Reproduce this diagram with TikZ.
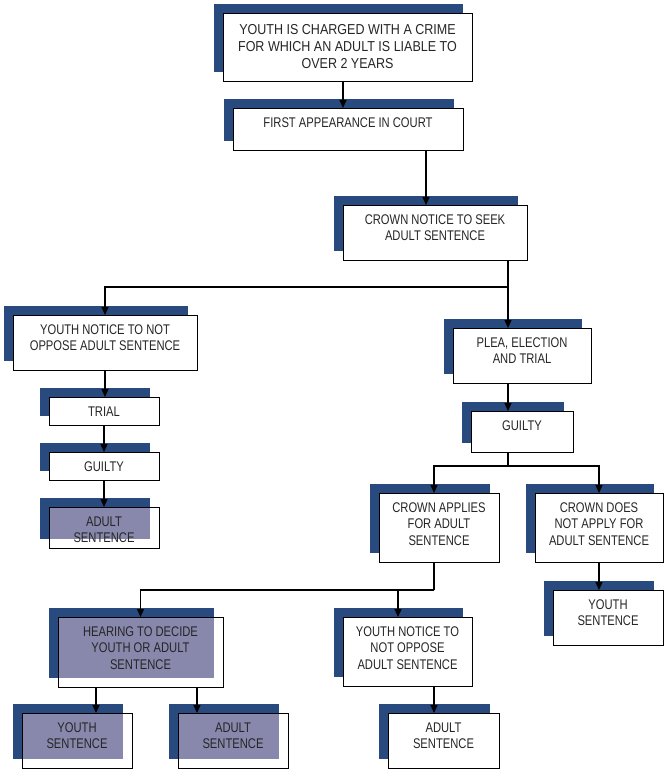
\documentclass[tikz,border=0pt]{standalone}
\usepackage{fontspec}
\setmainfont{Liberation Sans}[FakeStretch=0.8]
\newfontfamily\topfont{Liberation Sans}[FakeStretch=0.87]
\usetikzlibrary{arrows.meta,calc}
\definecolor{navy}{RGB}{40,74,126}
\definecolor{lavbox}{RGB}{135,136,172}
\definecolor{txtgray}{RGB}{38,38,38}
\tikzset{
  box/.style={draw=black, line width=0.9pt, fill=white, anchor=north west, inner sep=0pt, outer sep=0pt},
  lav/.style={path picture={\fill[lavbox] (path picture bounding box.north west) rectangle ([xshift=-9pt,yshift=9pt]path picture bounding box.south east);}},
  plain/.style={},
  txt/.style={anchor=north, align=center, inner sep=0pt, text=txtgray, font={\fontsize{14}{16.5}\selectfont}},
  toptxt/.style={anchor=north, align=center, inner sep=0pt, yshift=-1.5pt, text=txtgray, font={\topfont\fontsize{14.4}{17}\selectfont}},
  conn/.style={line width=1.2pt, draw=black},
  arr/.style={line width=1.2pt, draw=black, -{Triangle[length=8pt,width=7pt]}},
}
% name, x, y, w, h, box style, text style, text
\newcommand\FlowBox[8]{%
  \fill[navy] (#2pt-9pt,-#3pt+9pt) rectangle ++(#4pt,-#5pt);
  \node[box,#6,minimum width=#4pt,minimum height=#5pt] (#1) at (#2pt,-#3pt) {};
  \node[#7] (#1t) at ([yshift=-9.5pt]#1.north) {#8};
}
\begin{document}
\begin{tikzpicture}
\useasboundingbox (0,0) rectangle (670pt,-773pt);
\FlowBox{top}{223}{13}{249}{68}{plain}{toptxt}{YOUTH IS CHARGED WITH A CRIME\\FOR WHICH AN ADULT IS LIABLE TO\\OVER 2 YEARS}
\FlowBox{first}{233}{108}{230}{42}{plain}{txt}{FIRST APPEARANCE IN COURT}
\FlowBox{crown}{343}{205}{184}{55}{plain}{txt}{CROWN NOTICE TO SEEK\\ADULT SENTENCE}
\FlowBox{ynot}{13}{315}{184}{55}{plain}{txt}{YOUTH NOTICE TO NOT\\OPPOSE ADULT SENTENCE}
\FlowBox{trial}{49}{397}{110}{28}{plain}{txt}{TRIAL}
\FlowBox{guiltyL}{49}{452}{110}{28}{plain}{txt}{GUILTY}
\FlowBox{adultL}{49}{507}{110}{41}{lav}{txt}{ADULT\\SENTENCE}
\FlowBox{plea}{453}{328}{138}{55}{plain}{txt}{PLEA, ELECTION\\AND TRIAL}
\FlowBox{guiltyR}{471}{411}{102}{41}{plain}{txt}{GUILTY}
\FlowBox{capplies}{379}{493}{120}{69}{plain}{txt}{CROWN APPLIES\\FOR ADULT\\SENTENCE}
\FlowBox{cnot}{535}{493}{128}{69}{plain}{txt}{CROWN DOES\\NOT APPLY FOR\\ADULT SENTENCE}
\FlowBox{youthR}{553}{590}{110}{55}{plain}{txt}{YOUTH\\SENTENCE}
\FlowBox{ynot2}{343}{617}{129}{69}{plain}{txt}{YOUTH NOTICE TO\\NOT OPPOSE\\ADULT SENTENCE}
\FlowBox{adultBR}{388}{713}{111}{55}{plain}{txt}{ADULT\\SENTENCE}
\FlowBox{hearing}{58}{617}{165}{70}{lav}{txt}{HEARING TO DECIDE\\YOUTH OR ADULT\\SENTENCE}
\FlowBox{youthBL}{22}{713}{110}{55}{lav}{txt}{YOUTH\\SENTENCE}
\FlowBox{adultBM}{178}{713}{110}{55}{lav}{txt}{ADULT\\SENTENCE}
% connectors
\draw[arr] ([xshift=-4.5pt]top.south) -- ([xshift=-4.5pt]top.south |- first.north);
\draw[arr] ([xshift=-9pt]crown.north |- first.south) -- ([xshift=-9pt]crown.north);
\coordinate (j1) at (508pt,-287pt);
\draw[conn] (crown.south -| j1) -- (j1);
\draw[arr] (j1) -| (ynot.north);
\draw[arr] (j1) -- (j1 |- plea.north);
\draw[arr] (ynot.south) -- (ynot.south |- trial.north);
\draw[arr] (trial.south) -- (trial.south |- guiltyL.north);
\draw[arr] (guiltyL.south) -- (guiltyL.south |- adultL.north);
\draw[arr] (plea.south -| j1) -- (guiltyR.north -| j1);
\coordinate (j2) at (508pt,-466pt);
\draw[conn] (guiltyR.south -| j2) -- (j2);
\draw[arr] (j2) -| ([xshift=-5pt]capplies.north);
\draw[arr] (j2) -| (cnot.north);
\draw[arr] (cnot.south) -- (cnot.south |- youthR.north);
\coordinate (j3) at (434pt,-590pt);
\coordinate (j4) at (398pt,-590pt);
\draw[conn] (capplies.south -| j3) -- (j3);
\draw[arr] (j3) -| (hearing.north);
\draw[arr] (j4) -- (j4 |- ynot2.north);
\draw[arr] (ynot2.south -| j3) -- (adultBR.north -| j3);
\draw[arr] ([xshift=38pt]hearing.south west) -- ([xshift=38pt]hearing.south west |- youthBL.north);
\draw[arr] ([xshift=-26pt]hearing.south east) -- ([xshift=-26pt]hearing.south east |- adultBM.north);
\end{tikzpicture}
\end{document}
